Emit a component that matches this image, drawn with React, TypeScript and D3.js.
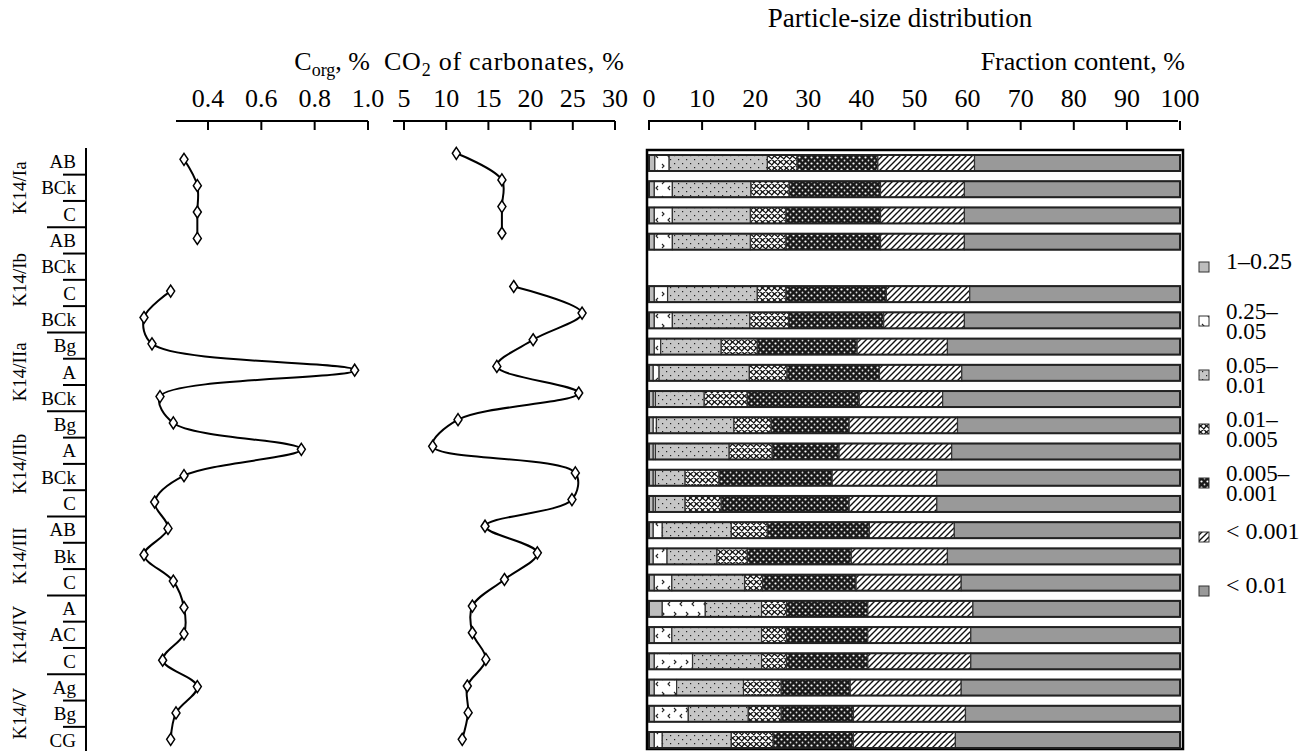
import * as d3 from "d3";

const horizons = ["AB", "BCk", "C", "AB", "BCk", "C", "BCk", "Bg", "A", "BCk", "Bg", "A", "BCk", "C", "AB", "Bk", "C", "A", "AC", "C", "Ag", "Bg", "CG"];
const profileNames = ["K14/Ia", "K14/Ib", "K14/IIa", "K14/IIb", "K14/III", "K14/IV", "K14/V"];
const profileSizes = [3, 4, 3, 4, 3, 3, 3];

// organic carbon, %
const corg = [0.31, 0.36, 0.36, 0.36, null, 0.26, 0.16, 0.19, 0.95, 0.22, 0.27, 0.75, 0.31, 0.2, 0.25, 0.16, 0.27, 0.31, 0.31, 0.23, 0.36, 0.28, 0.26];
// CO2 of carbonates, %
const co2 = [11.2, 16.6, 16.6, 16.6, null, 18.0, 26.1, 20.3, 16.0, 25.7, 11.4, 8.4, 25.3, 24.9, 14.6, 20.8, 16.9, 13.1, 13.1, 14.7, 12.5, 12.6, 11.9];

const corgTicks = [0.4, 0.6, 0.8, 1.0];
const co2Ticks = [5, 10, 15, 20, 25, 30];
const fracTicks = [0, 10, 20, 30, 40, 50, 60, 70, 80, 90, 100];

// fraction contents, % (row 5 has no data)
const fractionKeys = ["f1", "f2", "f3", "f4", "f5", "f6", "f7"];
const fractionLabels = [["1\u20130.25"], ["0.25\u2013", "0.05"], ["0.05\u2013", "0.01"], ["0.01\u2013", "0.005"], ["0.005\u2013", "0.001"], ["< 0.001"], ["< 0.01"]];
const f1 = [1.1, 1.0, 1.0, 1.0, 0, 1.0, 1.0, 1.0, 0.8, 0.8, 0.8, 0.8, 0.8, 0.8, 0.8, 0.8, 1.0, 2.5, 1.0, 1.0, 1.0, 1.0, 1.0];
const f2 = [2.7, 3.4, 3.4, 3.4, 0, 2.5, 3.4, 1.2, 1.1, 0.4, 0.6, 0.4, 0.4, 0.4, 1.7, 2.6, 3.3, 8.1, 3.3, 7.2, 4.2, 6.4, 1.5];
const f3 = [18.5, 14.8, 14.7, 14.7, 0, 16.9, 14.6, 11.4, 17.0, 9.2, 14.6, 13.9, 5.6, 5.6, 13.0, 9.4, 13.7, 10.6, 16.9, 13.0, 12.6, 11.3, 13.0];
const f4 = [5.6, 7.2, 6.7, 6.7, 0, 5.4, 7.3, 6.8, 7.1, 8.1, 7.0, 8.1, 6.4, 6.8, 6.8, 5.7, 3.4, 4.7, 4.7, 4.7, 7.1, 6.2, 7.9];
const f5 = [15.2, 17.2, 17.8, 17.8, 0, 18.9, 17.9, 18.8, 17.4, 21.1, 14.7, 12.6, 21.3, 24.1, 19.2, 19.6, 17.6, 15.3, 15.3, 15.3, 13.0, 13.6, 15.1];
const f6 = [18.2, 15.8, 15.8, 15.8, 0, 15.7, 15.2, 17.0, 15.5, 15.7, 20.4, 21.2, 19.7, 16.5, 16.0, 18.1, 19.8, 19.8, 19.4, 19.4, 20.9, 21.1, 19.2];
const f7 = [38.7, 40.6, 40.6, 40.6, 0, 39.6, 40.6, 43.8, 41.1, 44.7, 41.9, 43.0, 45.8, 45.8, 42.5, 43.8, 41.2, 39.0, 39.4, 39.4, 41.2, 40.4, 42.3];

const rows = horizons.map((h, i) => ({
  i, h, f1: f1[i], f2: f2[i], f3: f3[i], f4: f4[i], f5: f5[i], f6: f6[i], f7: f7[i],
}));

const FONT = "'Liberation Serif', 'Times New Roman', serif";
const diamond = "M0,-6L4,0L0,6L-4,0Z";

function Patterns() {
  return (
    <defs>
      <pattern id="p1" width="4" height="4" patternUnits="userSpaceOnUse">
        <rect width="4" height="4" fill="#bdbdbd" />
      </pattern>
      <pattern id="p2" width="12" height="16" patternUnits="userSpaceOnUse" y="2">
        <rect width="12" height="16" fill="#fff" />
        <path d="M2,2L4,4L2,6" fill="none" stroke="#222" strokeWidth="1.1" />
        <path d="M10,8L8,10L10,12" fill="none" stroke="#222" strokeWidth="1.1" />
      </pattern>
      <pattern id="p3" width="8" height="8" patternUnits="userSpaceOnUse" y="1">
        <rect width="8" height="8" fill="#c6c6c6" />
        <rect x="2" y="2" width="1.2" height="1.2" fill="#222" />
        <rect x="6" y="6" width="1.2" height="1.2" fill="#222" />
      </pattern>
      <pattern id="p4" width="6" height="6" patternUnits="userSpaceOnUse">
        <rect width="6" height="6" fill="#fff" />
        <path d="M0,0Q3,1 6,6M0,6Q3,5 6,0" fill="none" stroke="#111" strokeWidth="1.2" />
      </pattern>
      <pattern id="p5" width="6" height="6" patternUnits="userSpaceOnUse">
        <rect width="6" height="6" fill="#1a1a1a" />
        <circle cx="1.5" cy="1.5" r="1.1" fill="#fff" />
        <circle cx="4.5" cy="4.5" r="0.9" fill="#ddd" />
      </pattern>
      <pattern id="p6" width="6" height="6" patternUnits="userSpaceOnUse">
        <rect width="6" height="6" fill="#fff" />
        <path d="M-1,7L7,-1M-1,1L1,-1M5,7L7,5" stroke="#111" strokeWidth="1.4" />
      </pattern>
      <pattern id="p7" width="4" height="4" patternUnits="userSpaceOnUse">
        <rect width="4" height="4" fill="#999" />
      </pattern>
    </defs>
  );
}

export default function App() {
  const width = 1312;
  const height = 751;

  // scales
  const xCorg = d3.scaleLinear().domain([0.4, 1.0]).range([208, 368]);
  const xCo2 = d3.scaleLinear().domain([5, 30]).range([404, 615]);
  const xFrac = d3.scaleLinear().domain([0, 100]).range([649, 1180]);
  const yLab = d3.scaleLinear().domain([0, horizons.length - 1]).range([161.5, 740]);
  const yCorg = d3.scaleLinear().domain([0, horizons.length - 1]).range([159.3, 739.3]);
  const yCo2 = d3.scaleLinear().domain([0, horizons.length - 1]).range([153.3, 739.3]);
  const yBar = d3.scaleLinear().domain([0, horizons.length - 1]).range([163, 740]);
  const barH = 16;

  const lineCorg = d3
    .line<number | null>()
    .defined((d) => d != null)
    .x((d) => xCorg(d as number))
    .y((_, i) => yCorg(i))
    .curve(d3.curveCatmullRom.alpha(0.5));
  const lineCo2 = d3
    .line<number | null>()
    .defined((d) => d != null)
    .x((d) => xCo2(d as number))
    .y((_, i) => yCo2(i))
    .curve(d3.curveCatmullRom.alpha(0.5));

  const stacked = d3.stack<any>().keys(fractionKeys)(rows);

  // horizon separators and profile centers
  const starts = d3.cumsum([0, ...profileSizes]);
  const groupStart = new Set(Array.from(starts).slice(1, -1));
  const step = yLab(1) - yLab(0);

  const axisY = 121;

  const axis = (scale: d3.ScaleLinear<number, number>, ticks: number[], x0: number, x1: number, fmt: (v: number) => string) => (
    <g>
      <line x1={x0} x2={x1} y1={axisY} y2={axisY} stroke="#000" strokeWidth={2} />
      {ticks.map((t) => (
        <g key={t}>
          <line x1={scale(t)} x2={scale(t)} y1={axisY} y2={axisY + 9} stroke="#000" strokeWidth={2} />
          <text x={scale(t)} y={107} textAnchor="middle" fontSize={26}>
            {fmt(t)}
          </text>
        </g>
      ))}
    </g>
  );

  return (
    <svg width={width} height={height} style={{ position: "absolute", left: 0, top: 0, background: "#fff" }} fontFamily={FONT}>
      <Patterns />

      {/* titles */}
      <text x={900} y={27} fontSize={27} textAnchor="middle">Particle-size distribution</text>
      <text x={370} y={70} fontSize={26} textAnchor="end">
        C<tspan dy={6} fontSize={18}>org</tspan>
        <tspan dy={-6}>, %</tspan>
      </text>
      <text x={384} y={70} fontSize={26} textLength={240} lengthAdjust="spacing">
        CO<tspan dy={6} fontSize={18}>2</tspan>
        <tspan dy={-6}> of carbonates, %</tspan>
      </text>
      <text x={1185} y={70} fontSize={26} textAnchor="end">Fraction content, %</text>

      {/* axes */}
      {axis(xCorg, corgTicks, 176, 368, d3.format(".1f"))}
      {axis(xCo2, co2Ticks, 393, 615, (v) => String(v))}
      {axis(xFrac, fracTicks, 648, 1178, (v) => String(v))}

      {/* left labels */}
      <line x1={86} x2={86} y1={148} y2={751} stroke="#000" strokeWidth={2} />
      {horizons.map((h, i) => (
        <text key={i} x={76} y={yLab(i)} dy="0.35em" textAnchor="end" fontSize={19}>
          {h}
        </text>
      ))}
      {horizons.slice(1).map((_, k) => {
        const i = k + 1;
        const y = yLab(i) - step / 2;
        return <line key={i} x1={groupStart.has(i) ? 47 : 63} x2={86} y1={y} y2={y} stroke="#000" strokeWidth={2} />;
      })}
      {profileNames.map((p, g) => {
        const cy = (yLab(starts[g]) + yLab(starts[g + 1] - 1)) / 2;
        return (
          <text key={p} transform={`translate(19,${cy}) rotate(-90)`} textAnchor="middle" dy="0.35em" fontSize={19}>
            {p}
          </text>
        );
      })}

      {/* Corg */}
      <path d={lineCorg(corg) ?? ""} fill="none" stroke="#000" strokeWidth={2} />
      {corg.map((v, i) =>
        v == null ? null : (
          <path key={i} d={diamond} transform={`translate(${xCorg(v)},${yCorg(i)})`} fill="#fff" stroke="#000" strokeWidth={1.5} />
        )
      )}

      {/* CO2 */}
      <path d={lineCo2(co2) ?? ""} fill="none" stroke="#000" strokeWidth={2} />
      {co2.map((v, i) =>
        v == null ? null : (
          <path key={i} d={diamond} transform={`translate(${xCo2(v)},${yCo2(i)})`} fill="#fff" stroke="#000" strokeWidth={1.5} />
        )
      )}

      {/* bars */}
      <rect x={647} y={150} width={536} height={599} fill="none" stroke="#000" strokeWidth={2.5} />
      {stacked.map((series, s) => (
        <g key={series.key}>
          {series.map((d, i) =>
            d[1] - d[0] <= 0 ? null : (
              <rect
                key={i}
                x={xFrac(d[0])}
                y={yBar(i) - barH / 2}
                width={xFrac(d[1]) - xFrac(d[0])}
                height={barH}
                fill={`url(#p${s + 1})`}
                stroke="#333"
                strokeWidth={1.2}
              />
            )
          )}
        </g>
      ))}
      {rows.map((r, i) =>
        f7[i] === 0 ? null : (
          <rect key={i} x={xFrac(0)} y={yBar(i) - barH / 2} width={xFrac(100) - xFrac(0)} height={barH} fill="none" stroke="#222" strokeWidth={2} />
        )
      )}

      {/* legend */}
      {fractionLabels.map((lines, k) => {
        const cy = 267 + k * 54;
        return (
          <g key={k}>
            <rect x={1199} y={cy - 5} width={10} height={10} fill={`url(#p${k + 1})`} stroke="#333" strokeWidth={1} />
            {lines.length === 1 ? (
              <text x={1226} y={cy + 2} fontSize={24}>
                {lines[0]}
              </text>
            ) : (
              <text x={1226} y={cy - 2} fontSize={23}>
                <tspan x={1226}>{lines[0]}</tspan>
                <tspan x={1226} dy={20}>{lines[1]}</tspan>
              </text>
            )}
          </g>
        );
      })}
    </svg>
  );
}
